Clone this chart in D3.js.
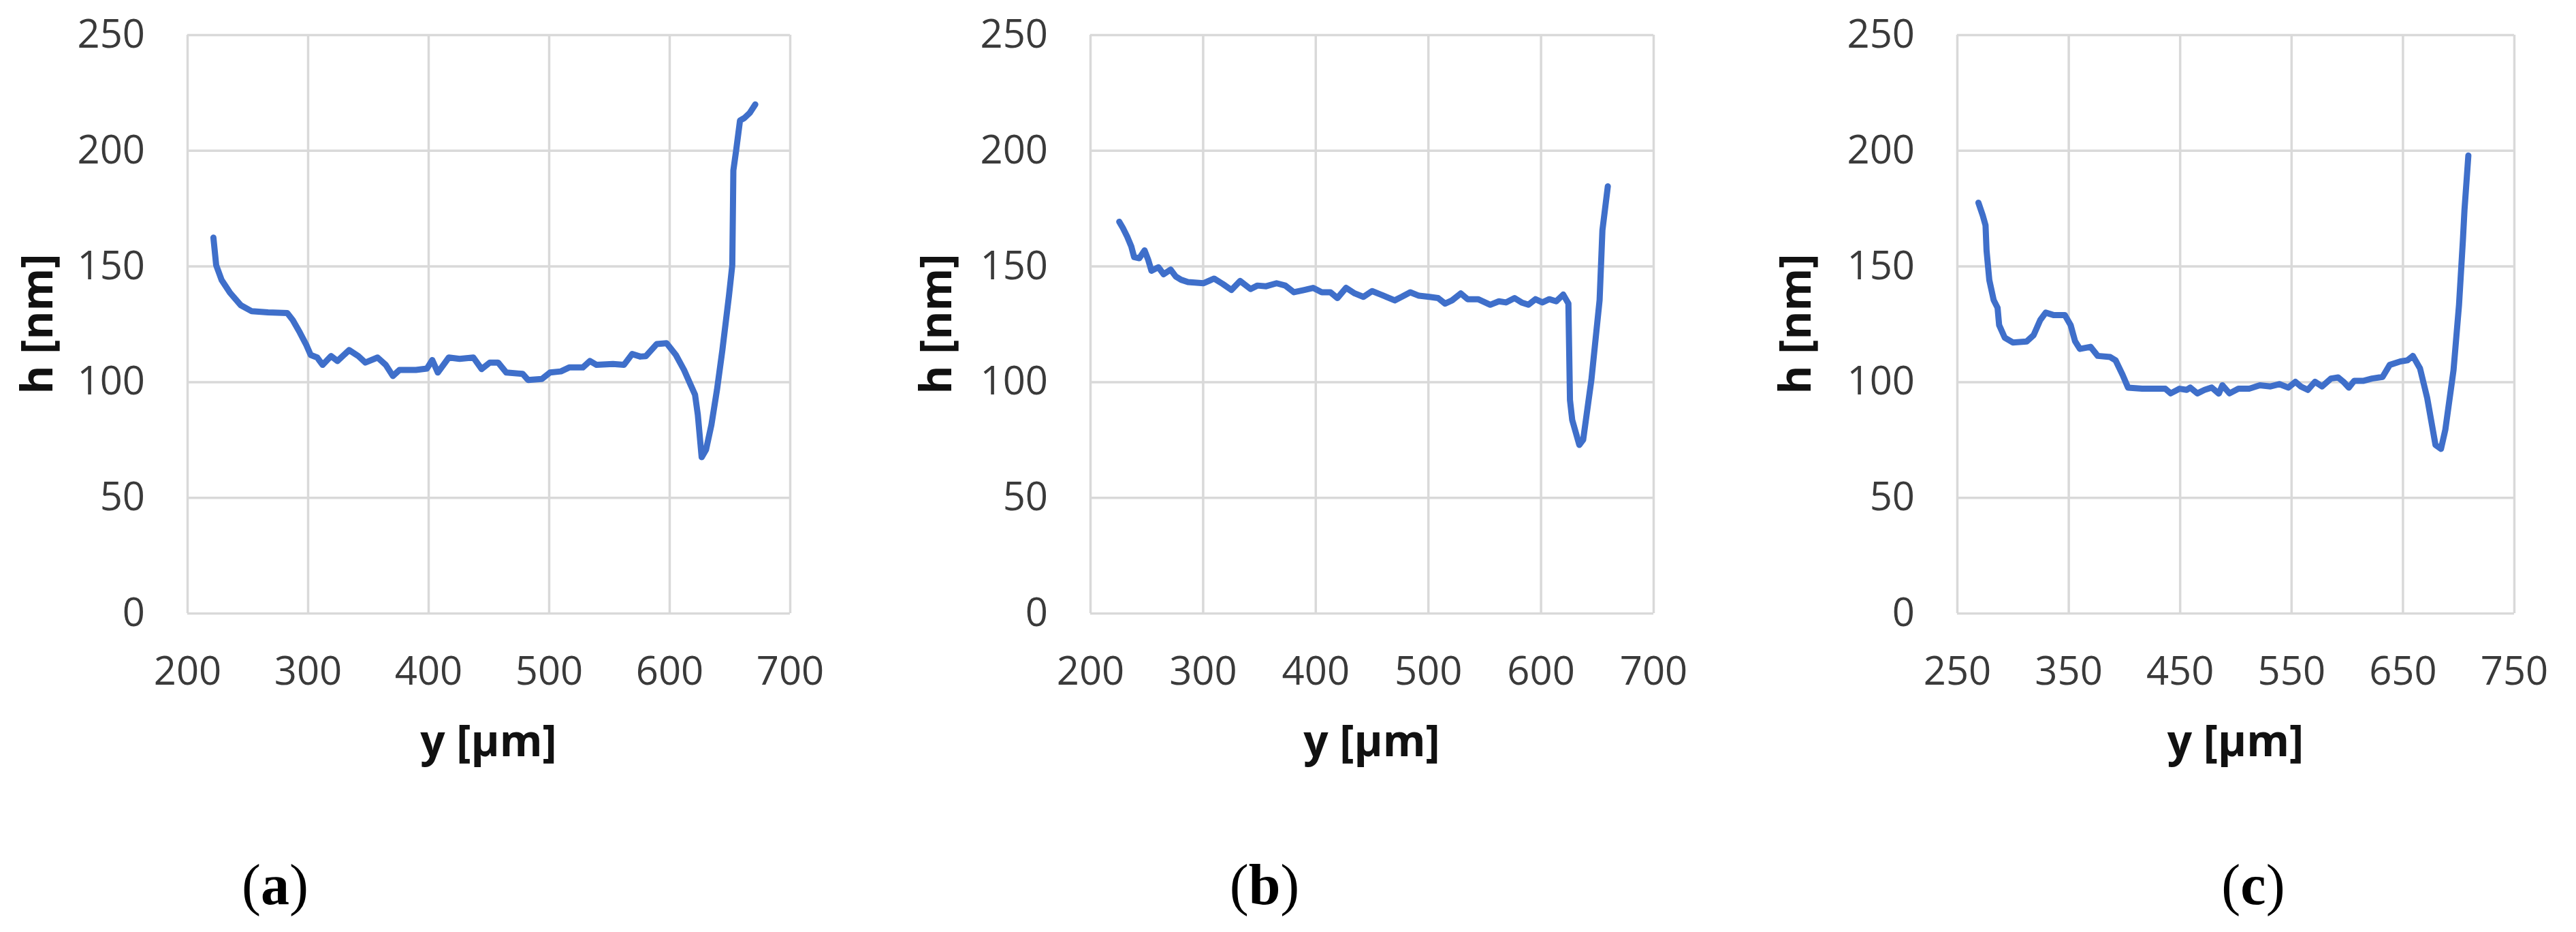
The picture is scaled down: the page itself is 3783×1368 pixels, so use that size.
<!DOCTYPE html>
<html>
<head>
<meta charset="utf-8">
<script src="https://cdn.jsdelivr.net/npm/d3@7"></script>
<style>
  html, body { margin: 0; padding: 0; background: #ffffff; }
  svg { display: block; }
</style>
</head>
<body>
<svg id="chart" width="3783" height="1368"></svg>
<script>
// ---------- data ----------
const hTicks = [0, 50, 100, 150, 200, 250];
const xTicksAB = [200, 300, 400, 500, 600, 700];
const xTicksC = [250, 350, 450, 550, 650, 750];
const panelLabels = ["a", "b", "c"];
const xTitle = "y [µm]";
const yTitle = "h [nm]";

const yA = [221.7,224,228.5,235.3,244.4,253.5,267,283,287.5,293.4,298.8,302.4,307.8,312.3,319.3,324.6,334.3,342,347.8,357.9,364.7,370.6,376,389.7,398.8,403.3,407.9,417,426,437.4,444.2,451,457.9,464.7,478.3,482.8,494.2,501,510,516.9,528.2,534.1,539.6,553.2,562.3,569.1,575.9,580.5,589.5,597.7,605.4,612.2,617.7,621.3,623.6,626.8,630.4,634.9,639.5,644,649.5,652.2,653.1,655.4,658.6,662.2,666.7,671.3];
const hA = [162.3,150.4,144,138.6,133.1,130.5,130,129.7,126.7,121.3,115.9,111.6,110.5,107.3,111.1,109,113.7,111.1,108.3,110.5,107.3,102.5,105.1,105.1,105.7,109.4,104,110.5,109.9,110.5,105.5,108.3,108.3,104,103.4,100.8,101.2,104,104.5,106.2,106.2,109,107.3,107.7,107.3,112,110.9,111.1,116.3,116.7,111.6,105.1,98.6,94.4,85.8,67.4,70.6,81.4,96.5,113.8,137.4,150.4,191.4,200,212.9,214,216.2,219.9];

const yB = [225.8,229,232.9,236.5,239,243.6,248.3,251.4,254.4,260.6,265.2,271.4,276,280.7,286.8,300.7,310,317.7,325.4,333.1,342.4,348.5,356.2,365.5,373.2,380.9,390.2,397.9,405.6,413.3,419.5,427.2,434.9,442.6,450.3,458,470.4,476.5,484.2,491.9,501.2,508.9,515.1,521.3,529,535.1,544.4,555.2,562.9,569.1,576.8,583,589.1,595.3,601.5,607.6,613.8,620,624.6,626,628,634.3,637.7,645,652.3,654.8,659.6];
const hB = [169.2,166.5,162.7,158.5,153.9,153.4,156.8,152.9,148,149.5,146.5,148.5,145.5,144.1,143.1,142.6,144.6,142.3,139.7,143.6,140.1,141.6,141.3,142.6,141.6,138.7,139.7,140.6,138.7,138.7,136.2,140.6,138.2,136.7,139.2,137.7,135.2,136.7,138.7,137.2,136.7,136.2,133.8,135.2,138.2,135.7,135.7,133.3,134.8,134.3,136.2,134.3,133.3,135.7,134.3,135.7,134.8,137.7,133.8,92.1,83.5,72.7,74.9,100.8,135.3,165.5,184.5];

const yC = [269.2,273.1,275.6,276.5,279,282.9,286.4,287.8,292.8,300.1,312.4,318.8,324.7,329.6,337,346.8,352,356,360.3,369.9,376.3,387.5,392.3,398.7,403.5,416.2,437,441.8,449.8,456.2,459.4,465.8,472.2,478.6,485,488.2,494.6,502.6,512.2,521.8,531.4,539.3,547.3,553.7,558.5,564.9,571.3,577.7,585.7,592.1,596.9,601.7,606.5,614.5,622.5,632,638.4,648,654.4,659.2,665.6,672,679.5,684.4,688.3,695.7,700.6,704.1,705.5,709];
const hC = [177.4,171.9,167.6,156.8,143.9,135.3,132,124.5,119.1,117,117.4,120.2,126.7,129.9,128.8,128.8,124.5,117.5,114.2,115.1,111.2,110.7,109.3,102.9,97.5,97,97,95,97,96.5,97.5,95,96.5,97.5,94.9,98.5,95,97,97,98.5,98,99,97.5,100,98,96.5,100,98,101.4,101.9,100,97.5,100.4,100.4,101.4,102.1,107.3,108.8,109.3,111.2,105.8,93.1,72.7,71,79.2,105.1,133.1,161.2,174.1,197.8];

// ---------- layout ----------
const TOP = 51, BOTTOM = 900;
const panels = [
  { xs: yA, hs: hA, ticks: xTicksAB, left: 275,  right: 1160, yTitleX: 55,   labelX: 404 },
  { xs: yB, hs: hB, ticks: xTicksAB, left: 1601, right: 2428, yTitleX: 1375, labelX: 1857 },
  { xs: yC, hs: hC, ticks: xTicksC,  left: 2874, right: 3692, yTitleX: 2637, labelX: 3309 }
];

const svg = d3.select("#chart");
svg.append("rect").attr("width", 3783).attr("height", 1368).attr("fill", "#ffffff");

const tickFont = "'Open Sans', 'Noto Sans', sans-serif";
const gridColor = "#d9d9d9";
const lineColor = "#3f6fca";

panels.forEach((p, i) => {
  const x = d3.scaleLinear().domain([p.ticks[0], p.ticks[p.ticks.length - 1]]).range([p.left, p.right]);
  const y = d3.scaleLinear().domain([0, 250]).range([BOTTOM, TOP]);
  const g = svg.append("g");

  const ya = g.append("g")
    .attr("transform", `translate(${p.left},0)`)
    .call(d3.axisLeft(y).tickValues(hTicks).tickSize(-(p.right - p.left)).tickPadding(62).tickFormat(d3.format("d")));
  const xa = g.append("g")
    .attr("transform", `translate(0,${BOTTOM})`)
    .call(d3.axisBottom(x).tickValues(p.ticks).tickSize(-(BOTTOM - TOP)).tickPadding(64).tickFormat(d3.format("d")));

  [ya, xa].forEach(a => {
    a.select(".domain").remove();
    a.selectAll(".tick line").attr("stroke", gridColor).attr("stroke-width", 3.5);
    a.selectAll(".tick text")
      .attr("font-family", tickFont).attr("font-size", 58).attr("fill", "#3a3a3a");
  });

  const pts = d3.zip(p.xs, p.hs);
  g.append("path")
    .datum(pts)
    .attr("fill", "none")
    .attr("stroke", lineColor)
    .attr("stroke-width", 9)
    .attr("stroke-linejoin", "round")
    .attr("stroke-linecap", "round")
    .attr("d", d3.line().x(d => x(d[0])).y(d => y(d[1])).curve(d3.curveLinear));

  g.append("text")
    .attr("x", (p.left + p.right) / 2).attr("y", 1110)
    .attr("text-anchor", "middle")
    .attr("font-family", tickFont).attr("font-weight", "bold").attr("font-size", 64)
    .attr("fill", "#111111")
    .text(xTitle);
  g.append("text")
    .attr("transform", `translate(${p.yTitleX},${(TOP + BOTTOM) / 2}) rotate(-90)`)
    .attr("text-anchor", "middle").attr("dy", "0.35em")
    .attr("font-family", tickFont).attr("font-weight", "bold").attr("font-size", 64)
    .attr("fill", "#111111")
    .text(yTitle);

  const lab = svg.append("text")
    .attr("x", p.labelX).attr("y", 1327)
    .attr("text-anchor", "middle")
    .attr("font-family", "'Liberation Serif', 'Times New Roman', serif")
    .attr("font-size", 84).attr("fill", "#000000");
  lab.append("tspan").text("(");
  lab.append("tspan").attr("font-weight", "bold").text(panelLabels[i]);
  lab.append("tspan").text(")");
});
</script>
</body>
</html>
